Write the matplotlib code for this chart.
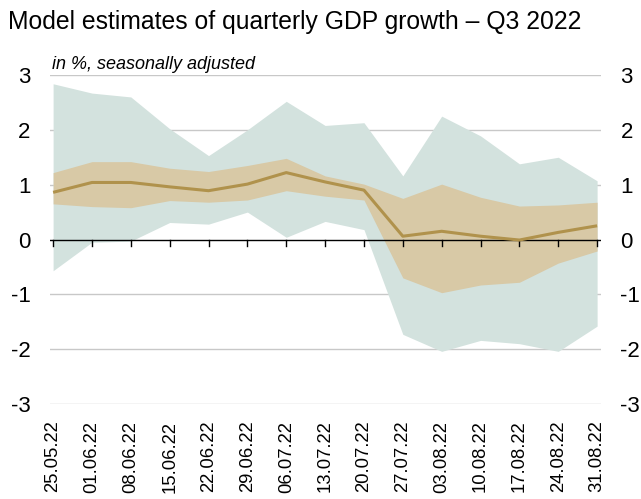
import matplotlib
matplotlib.use("Agg")
import matplotlib.pyplot as plt
import numpy as np

dates = ["25.05.22", "01.06.22", "08.06.22", "15.06.22", "22.06.22", "29.06.22",
         "06.07.22", "13.07.22", "20.07.22", "27.07.22", "03.08.22", "10.08.22",
         "17.08.22", "24.08.22", "31.08.22"]
estimate = [0.86, 1.04, 1.04, 0.96, 0.89, 1.01, 1.22, 1.05, 0.90, 0.06, 0.15, 0.06, -0.01, 0.13, 0.25]
inner_low = [0.65, 0.60, 0.58, 0.71, 0.68, 0.72, 0.89, 0.79, 0.72, -0.70, -0.97, -0.83, -0.78, -0.43, -0.21]
inner_high = [1.22, 1.42, 1.42, 1.30, 1.24, 1.35, 1.48, 1.16, 1.01, 0.75, 1.01, 0.77, 0.61, 0.63, 0.68]
outer_low = [-0.57, -0.05, -0.03, 0.31, 0.28, 0.50, 0.04, 0.33, 0.18, -1.73, -2.04, -1.84, -1.90, -2.04, -1.58]
outer_high = [2.84, 2.67, 2.60, 2.02, 1.53, 2.00, 2.52, 2.08, 2.13, 1.16, 2.25, 1.89, 1.38, 1.50, 1.07]
y_ticks = [-3, -2, -1, 0, 1, 2, 3]

TEAL = "#d3e2de"
TAN = "#d8c9a6"
LINE = "#b0924c"
GRID = "#c8c8c8"

plt.rcParams["font.family"] = ["Liberation Sans", "DejaVu Sans"]

fig = plt.figure(figsize=(6.41, 4.99), dpi=100)
ax = fig.add_axes([50 / 641, 1 - 404 / 499, 551 / 641, 329 / 499])

x = np.arange(len(dates))
ax.fill_between(x, outer_low, outer_high, color=TEAL, linewidth=0, zorder=1)
ax.fill_between(x, inner_low, inner_high, color=TAN, linewidth=0, zorder=2)
ax.plot(x, estimate, color=LINE, linewidth=2.2, zorder=4, solid_capstyle="butt")

# light grid, black zero line with small downward ticks
for y in y_ticks:
    if y != 0:
        ax.axhline(y, color=GRID, linewidth=1.0, zorder=0)
ax.axhline(0, color="black", linewidth=1.0, zorder=3)
for xi in x:
    ax.plot([xi, xi], [0, -0.11], color="black", linewidth=1.0, zorder=3, clip_on=False)

ax.set_xlim(-0.08, len(dates) - 1 + 0.1)
ax.set_ylim(-3, 3)
for side in ax.spines.values():
    side.set_visible(False)

ax.set_yticks(y_ticks)
ax.set_yticklabels([str(v) for v in y_ticks])
ax.tick_params(axis="y", length=0, pad=14, labelsize=16, labelright=True)

ax.set_xticks(x)
ax.set_xticklabels(dates, rotation=90, fontsize=13.3)
ax.tick_params(axis="x", length=0, pad=12)

fig.text(8 / 641, 1 - 22 / 499, "Model estimates of quarterly GDP growth \u2013 Q3 2022",
         fontsize=17.8, va="center", ha="left")
ax.text(0.004, 1.006, "in %, seasonally adjusted", transform=ax.transAxes,
        fontsize=13, style="italic", ha="left", va="bottom")

fig.savefig("out.png", dpi=100)
